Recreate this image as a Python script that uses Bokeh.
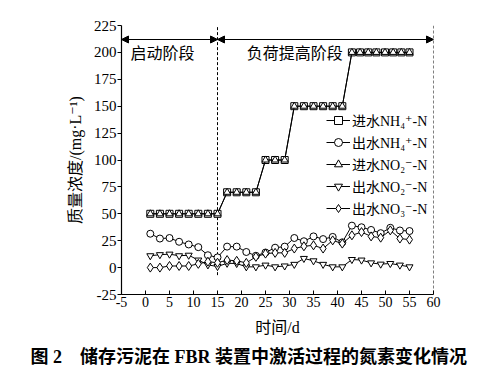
from bokeh.plotting import figure
from bokeh.models import (Arrow, NormalHead, Span, Legend, LegendItem, Title,
                          Range1d, FixedTicker, Label)
from bokeh.embed import file_html
from bokeh.resources import INLINE

# ---------------- data ----------------
inf_days = [1, 3, 5, 7, 9, 11, 13, 15, 17, 19, 21, 23, 25, 27, 29, 31, 33, 35, 37,
            39, 41, 43, 44.7, 46.4, 48.1, 49.9, 51.6, 53.3, 55]
inf_nh4 = [50, 50, 50, 50, 50, 50, 50, 50, 70, 70, 70, 70, 100, 100, 100,
           150, 150, 150, 150, 150, 150, 200, 200, 200, 200, 200, 200, 200, 200]
inf_no2 = [50, 50, 50, 50, 50, 50, 50, 50, 70, 70, 70, 70, 100, 100, 100,
           150, 150, 150, 150, 150, 150, 200, 200, 200, 200, 200, 200, 200, 200]

days = [1, 3, 5, 7, 9, 11, 13, 15, 17, 19, 21, 23, 25, 27, 29, 31, 33, 35, 37,
        39, 41, 43, 45, 47, 49, 51, 53, 55]
eff_nh4 = [31.5, 27, 27.5, 24, 21.5, 19, 11.5, 9.5, 19.5, 19.5, 14.5, 11, 14, 18.5,
           19.5, 27.5, 24.5, 29, 26.5, 28.5, 23.5, 39, 37.5, 35, 32, 37, 34.5, 34]
eff_no2 = [11, 12, 12.5, 11, 11.5, 7, 2.5, 1, 4, 3.8, 0.7, 0.7, 2.3, 0.7, 1.5, 3,
           8.5, 6.3, 3, 0.7, 0.7, 7.5, 7, 4.4, 3.2, 3.8, 2.3, 0.7]
eff_no3 = [0, 0, 1.5, 1.5, 1.5, 3.5, 5.5, 4.5, 7, 6.3, 4.4, 10, 13, 13.7, 13.7,
           17.7, 19.8, 20.7, 17.7, 25.3, 22.3, 30, 33, 29, 27.8, 34.6, 27, 26]

x_ticks = [-5, 0, 5, 10, 15, 20, 25, 30, 35, 40, 45, 50, 55, 60]
y_ticks = [-25, 0, 25, 50, 75, 100, 125, 150, 175, 200, 225]

phase_boundary = 15
phase_end = 60
arrow_level = 212
phase_names = ["启动阶段", "负荷提高阶段"]
labels = ["进水NH₄⁺-N", "出水NH₄⁺-N", "进水NO₂⁻-N", "出水NO₂⁻-N", "出水NO₃⁻-N"]
y_title = "质量浓度/(mg·L⁻¹)"
x_title = "时间/d"
caption = "图 2　储存污泥在 FBR 装置中激活过程的氮素变化情况"

FONT = "Liberation Serif, Noto Sans CJK SC, DejaVu Serif"

p = figure(width=490, height=372, x_range=Range1d(-5, 60), y_range=Range1d(-25, 225),
           output_backend="svg", toolbar_location=None,
           min_border_left=121, min_border_right=57, min_border_top=25,
           min_border_bottom=77)
p.outline_line_color = None
p.xgrid.visible = False
p.ygrid.visible = False
p.background_fill_color = "white"

for ax in (p.xaxis[0], p.yaxis[0]):
    ax.axis_line_color = "black"
    ax.axis_line_width = 1.2
    ax.major_tick_line_color = "black"
    ax.minor_tick_line_color = None
    ax.major_label_text_font = FONT
    ax.major_label_text_color = "black"
    ax.axis_label_text_font = FONT
    ax.axis_label_text_font_style = "normal"
    ax.axis_label_text_color = "black"

p.xaxis.ticker = FixedTicker(ticks=x_ticks)
p.yaxis.ticker = FixedTicker(ticks=y_ticks)
p.xaxis.major_label_overrides = {t: str(t) for t in x_ticks}
p.yaxis.major_label_overrides = {t: str(t) for t in y_ticks}
p.xaxis.major_tick_in = 4
p.xaxis.major_tick_out = 0
p.yaxis.major_tick_in = 0
p.yaxis.major_tick_out = 4
p.xaxis.major_label_text_font_size = "14px"
p.yaxis.major_label_text_font_size = "15px"
p.xaxis.major_label_standoff = 2
p.yaxis.major_label_standoff = 1
p.xaxis.axis_label = x_title
p.xaxis.axis_label_text_font_size = "16px"
p.xaxis.axis_label_standoff = 9
p.yaxis.axis_label = y_title
p.yaxis.axis_label_text_font_size = "16px"
p.yaxis.axis_label_standoff = 7

# phase markers
p.segment(x0=[phase_boundary], y0=[-7], x1=[phase_boundary], y1=[225],
          line_color="black", line_dash="3 2", line_width=1)
p.add_layout(Span(location=phase_end, dimension="height", line_color="black",
                  line_dash="3 2", line_width=1))
for xs, xe in ((-5, phase_boundary), (phase_boundary, phase_end)):
    p.add_layout(Arrow(x_start=xs, x_end=xe, y_start=arrow_level, y_end=arrow_level,
                       line_width=1.2, line_color="black",
                       start=NormalHead(size=7, fill_color="black", line_color="black"),
                       end=NormalHead(size=7, fill_color="black", line_color="black")))
p.add_layout(Label(x=-3.1, y=199, text=phase_names[0], text_font=FONT,
                   text_font_size="16px", text_baseline="middle", text_color="black"))
p.add_layout(Label(x=21.1, y=199, text=phase_names[1], text_font=FONT,
                   text_font_size="16px", text_baseline="middle", text_color="black"))

series = [
    (inf_days, inf_nh4, "square"),
    (days, eff_nh4, "circle"),
    (inf_days, inf_no2, "triangle"),
    (days, eff_no2, "inverted_triangle"),
    (days, eff_no3, "diamond"),
]
items = []
for (xs, ys, mk), lab in zip(series, labels):
    lr = p.line(xs, ys, line_color="black", line_width=1)
    sz = 9 if mk == "diamond" else 7
    sr = p.scatter(xs, ys, marker=mk, size=sz, fill_color="white", line_color="black",
                   line_width=1)
    items.append(LegendItem(label=lab, renderers=[lr, sr]))

legend = Legend(items=items, location=(205, 76), glyph_width=24, glyph_height=20,
                label_height=20, spacing=2, padding=0, margin=0, label_standoff=2,
                background_fill_alpha=0, border_line_alpha=0,
                label_text_font=FONT, label_text_font_size="14px",
                label_text_color="black")
p.add_layout(legend)

p.add_layout(Title(text=caption, text_font=FONT, text_font_size="18px",
                   text_font_style="bold", align="left", offset=-91,
                   text_color="black", standoff=12), "below")

open("out.html", "w").write(file_html(p, INLINE))
